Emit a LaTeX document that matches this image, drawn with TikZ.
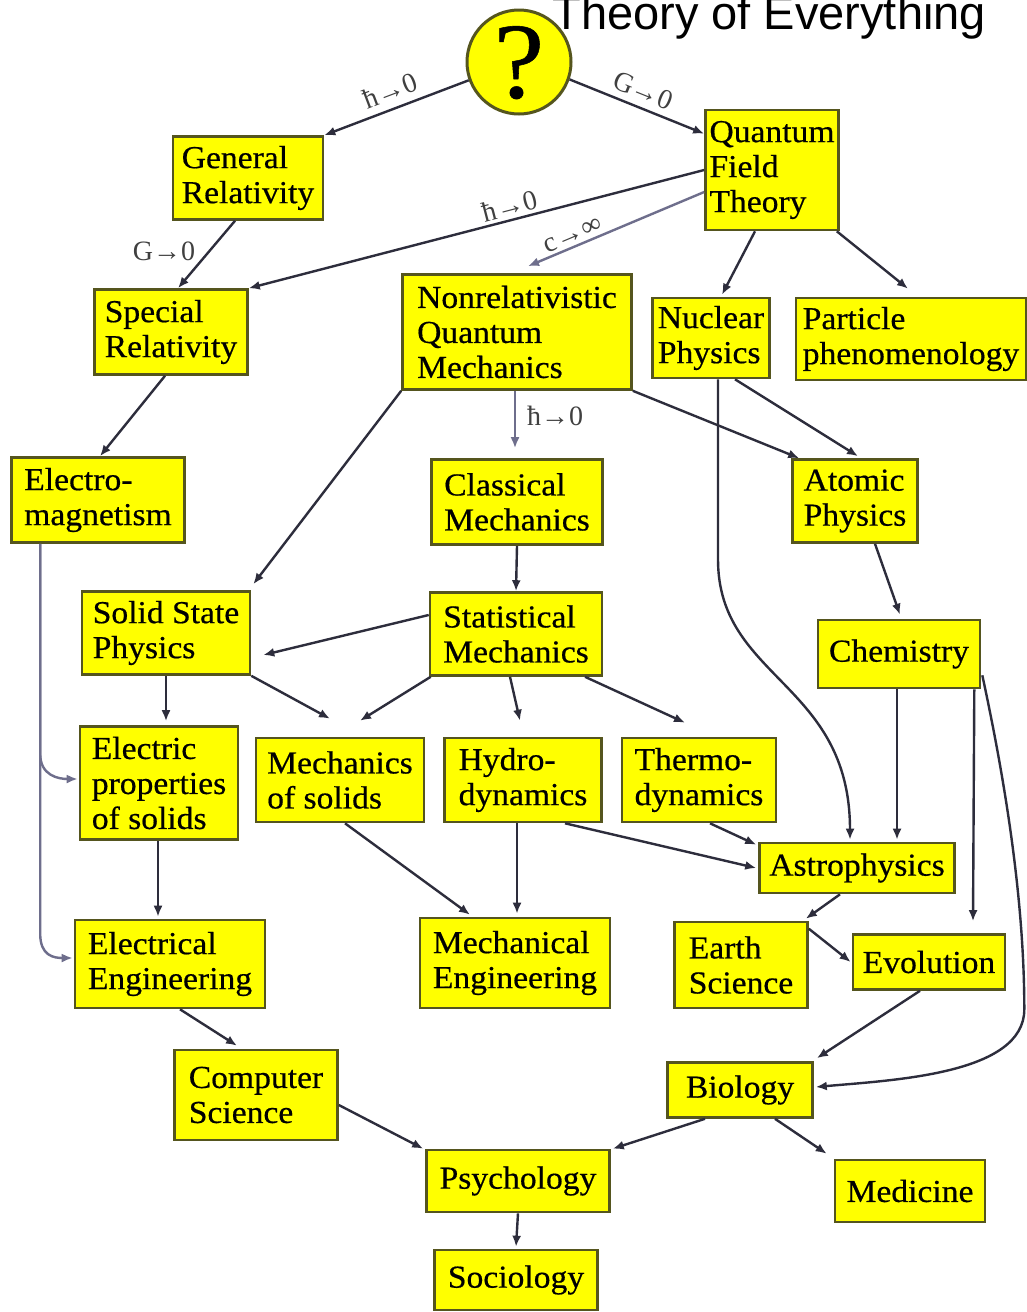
\documentclass[tikz,border=0pt]{standalone}
\usepackage{fontspec}
\setmainfont{Liberation Serif}
\newfontfamily\boxfont{Liberation Serif}[FakeStretch=1.05, FakeBold=0.5]
\newfontfamily\titlefont{Liberation Sans}
\usetikzlibrary{arrows.meta,calc}
\definecolor{boxfill}{RGB}{255,255,0}
\definecolor{boxedge}{RGB}{85,85,30}
\definecolor{edgecol}{RGB}{45,45,60}
\definecolor{lightedge}{RGB}{110,110,140}
\begin{document}
\begin{tikzpicture}[x=0.5pt,y=-0.5pt,
  box/.style={draw=boxedge, fill=boxfill, line width=1.3pt, inner sep=2pt, align=left,
    font=\boxfont\fontsize{16}{17.5}\selectfont, text=black},
  qcirc/.style={circle, draw=boxedge, fill=boxfill, line width=1.5pt, minimum size=52pt, inner sep=0pt,
    font=\boxfont\fontsize{54}{54}\selectfont},
  arr/.style={draw=edgecol, line width=1.2pt, -{Latex[length=5.5pt,width=4.5pt]}},
  lbl/.style={font=\fontsize{14}{14}\selectfont, text=black!75, inner sep=1.5pt}]
\useasboundingbox (0,0) rectangle (1027,1312);
\clip (0,0) rectangle (1027,1312);
\fill[white] (0,0) rectangle (1027,1312);

\node[qcirc] (q) at (519,62) {\smash{\raisebox{-0.33em}{?}}};
\node[anchor=base east, font=\titlefont\fontsize{23.5}{23.5}\selectfont] (title) at (993,29) {Theory of Everything};

\node[box, minimum width=75pt, minimum height=41.5pt] (gr) at (248,178) {General\\Relativity};
\node[box, minimum width=63pt, minimum height=60pt] (qft) at (772,170) {Quantum\\Field\\Theory};
\node[box, minimum width=76.5pt, minimum height=42.5pt] (sr) at (171,332) {Special\\Relativity};
\node[box, minimum width=114.5pt, minimum height=57.5pt] (nqm) at (517,332) {Nonrelativistic\\Quantum\\Mechanics};
\node[box, minimum width=58.5pt, minimum height=40pt] (nuc) at (711,338) {Nuclear\\Physics};
\node[box, minimum width=115pt, minimum height=41pt] (part) at (911,339) {Particle\\phenomenology};
\node[box, minimum width=86.5pt, minimum height=42.5pt] (em) at (98,500) {Electro-\\magnetism};
\node[box, minimum width=85.5pt, minimum height=42.5pt] (cm) at (517,502) {Classical\\Mechanics};
\node[box, minimum width=62.5pt, minimum height=41.5pt] (atom) at (855,501) {Atomic\\Physics};
\node[box, minimum width=84pt, minimum height=41.5pt] (ss) at (166,633) {Solid State\\Physics};
\node[box, minimum width=86pt, minimum height=41.5pt] (sm) at (516,634) {Statistical\\Mechanics};
\node[box, minimum width=81pt, minimum height=34pt] (chem) at (899,654) {Chemistry};
\node[box, minimum width=79pt, minimum height=56.5pt] (ep) at (159,783) {Electric\\properties\\of solids};
\node[box, minimum width=84pt, minimum height=42pt] (mos) at (340,780) {Mechanics\\of solids};
\node[box, minimum width=78.5pt, minimum height=42pt] (hyd) at (523,780) {Hydro-\\dynamics};
\node[box, minimum width=77pt, minimum height=42pt] (thm) at (699,780) {Thermo-\\dynamics};
\node[box, minimum width=97.5pt, minimum height=25pt] (ast) at (857,868) {Astrophysics};
\node[box, minimum width=95pt, minimum height=44pt] (ee) at (170,964) {Electrical\\Engineering};
\node[box, minimum width=95pt, minimum height=45pt] (me) at (515,963) {Mechanical\\Engineering};
\node[box, minimum width=66.5pt, minimum height=43pt] (es) at (741,965) {Earth\\Science};
\node[box, minimum width=76pt, minimum height=27.5pt] (evo) at (929,962) {Evolution};
\node[box, minimum width=81.5pt, minimum height=45pt] (cs) at (256,1095) {Computer\\Science};
\node[box, minimum width=72.5pt, minimum height=27.5pt] (bio) at (740,1090) {Biology};
\node[box, minimum width=91.5pt, minimum height=31pt] (psy) at (518,1181) {Psychology};
\node[box, minimum width=75pt, minimum height=31pt] (med) at (910,1191) {Medicine};
\node[box, minimum width=81.5pt, minimum height=30pt] (soc) at (516,1280) {Sociology};

% top level
\draw[arr] (q.200) -- node[lbl, sloped, above=2pt, pos=0.5] {ħ→0} (gr.north east);
\draw[arr] (q.-19) -- node[lbl, sloped, above=2pt, pos=0.5] {G→0} ($(qft.north west)+(0,25)$);
\draw[arr] (qft.west) -- node[lbl, sloped, above, pos=0.42] {ħ→0} (sr.north east);
\draw[arr, draw=lightedge] ($(qft.west)+(0,22)$) -- node[lbl, sloped, above, pos=0.72] {c→∞} ($(nqm.north)+(11,-7)$);
\draw[arr] ($(gr.south)+(-13,0)$) -- node[lbl, pos=0.45, anchor=east, xshift=-5pt] {G→0} ($(sr.north)+(7,0)$);
\draw[arr] ($(qft.south)+(-17,0)$) -- ($(nuc.north)+(11,-2)$);
\draw[arr] ($(qft.south east)+(-3,0)$) -- ($(part.north)+(-3,-8)$);
\draw[arr] ($(sr.south)+(-6,0)$) -- ($(em.north)+(2,0)$);
\draw[arr, draw=lightedge] ($(nqm.south)+(-2,0)$) -- node[lbl, right, pos=0.44, xshift=4pt] {ħ→0} ($(cm.north)+(-2,-10)$);
\draw[arr] (nqm.south east) -- ($(atom.north west)+(8,0)$);
\draw[arr] ($(nuc.south)+(24,0)$) -- ($(atom.north)+(3,-2)$);
\draw[arr] ($(nuc.south)+(7,0)$) -- ($(nuc.south)+(7,180)$) .. controls ($(nuc.south)+(7,300)$) and ($(ast.north)+(-7,-160)$) .. ($(ast.north)+(-7,-2)$);
\draw[arr] (nqm.south west) -- ($(ss.north east)+(2,-6)$);
\draw[arr] (cm.south) -- (sm.north);
\draw[arr] ($(atom.south)+(20,0)$) -- ($(chem.north)+(1,-4)$);
% statistical mechanics level
\draw[arr] ($(sm.west)+(0,-19)$) -- ($(ss.east)+(12,22)$);
\draw[arr] ($(sm.south west)+(2,0)$) -- ($(mos.north)+(20,-16)$);
\draw[arr] (ss.south east) -- ($(mos.north)+(-10,-18)$);
\draw[arr] ($(sm.south)+(-6,0)$) -- ($(hyd.north)+(-3,-16)$);
\draw[arr] ($(sm.south)+(69,0)$) -- ($(thm.north)+(-14,-14)$);
\draw[arr] (ss.south) -- ($(ep.north)+(7,-4)$);
\draw[arr, draw=lightedge] ($(em.south west)+(30,0)$) -- ($(em.south west)+(30,210)$) .. controls ($(em.south west)+(30,232)$) and ($(ep.west)+(-20,-4)$) .. ($(ep.west)+(-1,-4)$);
\draw[arr, draw=lightedge] ($(em.south west)+(30,0)$) -- ($(em.south west)+(30,390)$) .. controls ($(em.south west)+(30,412)$) and ($(ee.west)+(-20,-6)$) .. ($(ee.west)+(-1,-6)$);
\draw[arr] ($(ep.south)+(-1,0)$) -- ($(ee.north)+(-12,-2)$);
\draw[arr] ($(chem.south)+(-2,0)$) -- ($(ast.north)+(40,-2)$);
\draw[arr] ($(chem.south east)+(-7,0)$) -- ($(evo.north)+(44,-12)$);
\draw[arr] ($(chem.south east)+(1,-14)$) .. controls ($(chem.south east)+(30,120)$) and ($(chem.south east)+(43,230)$) .. ($(chem.south east)+(43,320)$) .. controls ($(chem.south east)+(43,385)$) and ($(bio.east)+(80,-10)$) .. ($(bio.east)+(2,-3)$);
% engineering level
\draw[arr] ($(mos.south)+(5,0)$) -- ($(me.north)+(-45,-2)$);
\draw[arr] ($(hyd.south)+(-6,0)$) -- ($(me.north)+(2,-3)$);
\draw[arr] ($(hyd.south)+(42,0)$) -- ($(ast.west)+(-2,0)$);
\draw[arr] ($(thm.south)+(11,0)$) -- ($(ast.north west)+(-2,3)$);
\draw[arr] ($(ast.south)+(-17,0)$) -- ($(es.north east)+(-3,-2)$);
\draw[arr] ($(es.north east)+(0,8)$) -- ($(evo.west)+(-1,0)$);
\draw[arr] ($(evo.south)+(-9,0)$) -- ($(bio.north east)+(3,-3)$);
\draw[arr] ($(ee.south)+(10,0)$) -- ($(cs.north)+(-19,-3)$);
\draw[arr] ($(cs.east)+(0,10)$) -- ($(psy.north west)+(-2,0)$);
\draw[arr] ($(bio.south)+(-35,0)$) -- ($(psy.north east)+(2,0)$);
\draw[arr] ($(bio.south)+(35,0)$) -- ($(med.north west)+(-7,-5)$);
\draw[arr] (psy.south) -- ($(soc.north)+(0,-2)$);
\end{tikzpicture}
\end{document}
